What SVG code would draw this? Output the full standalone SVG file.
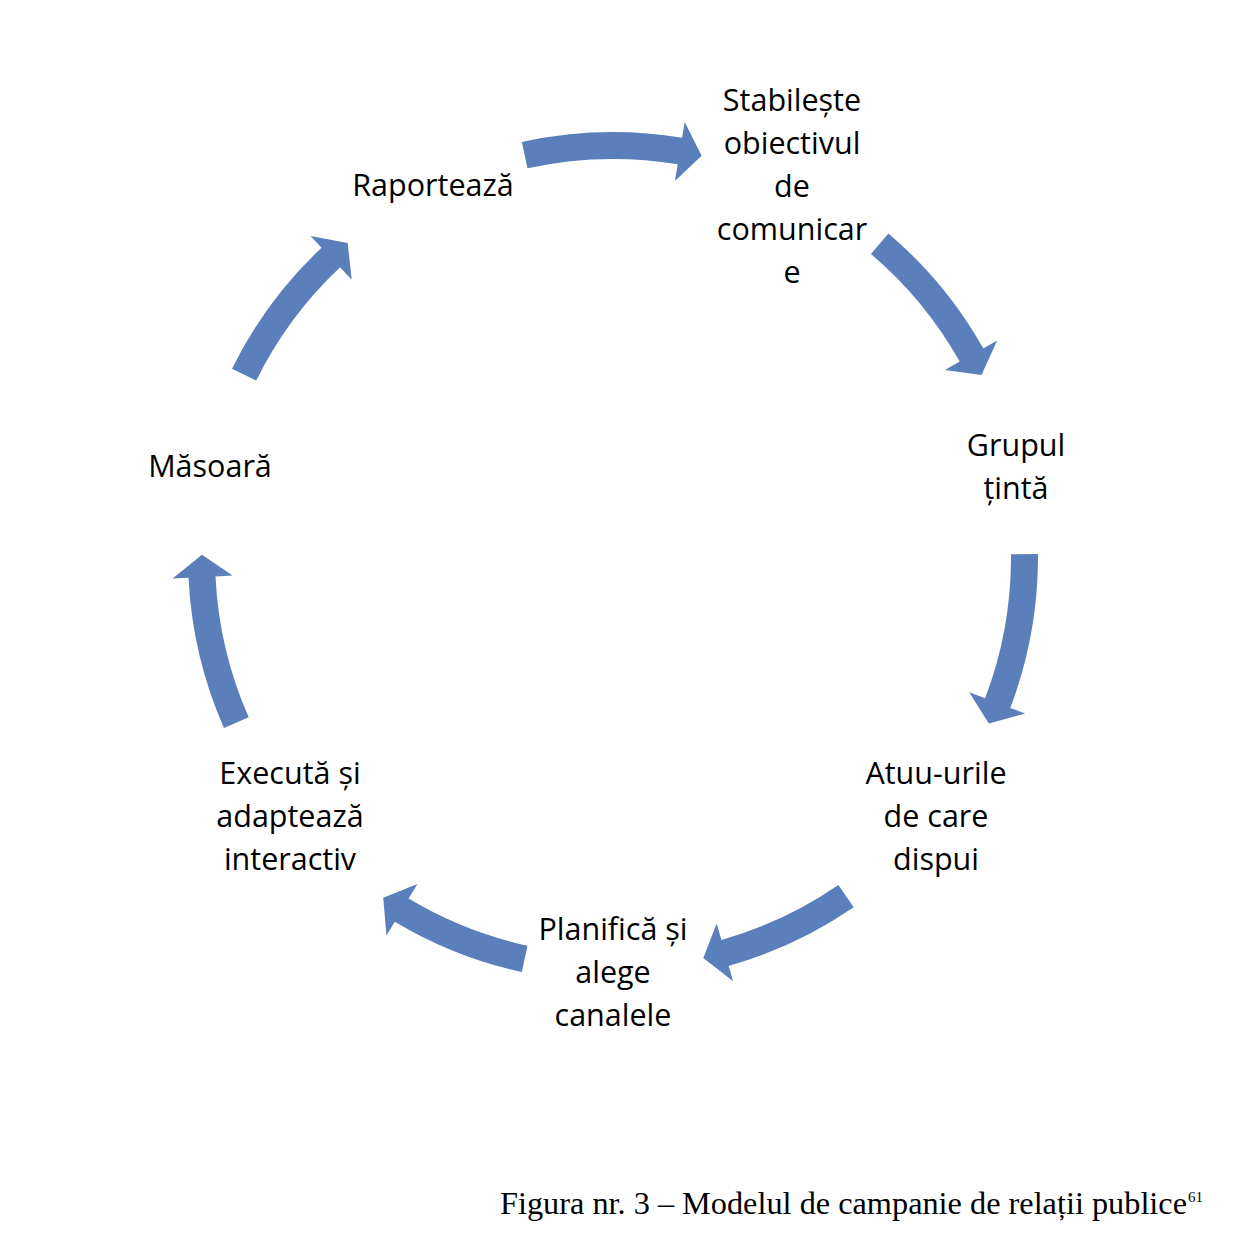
<svg xmlns="http://www.w3.org/2000/svg" width="1248" height="1258" viewBox="0 0 1248 1258">
<style>
.bg{fill:#ffffff}
.arr{fill:#5b7fbb;stroke:none}
.lbl{font-family:"Open Sans","Noto Sans","DejaVu Sans",sans-serif;font-size:30.5px;fill:#000000;text-anchor:middle}
.cap{font-family:"Liberation Serif","Times New Roman",serif;font-size:32px;fill:#000000}
.sup{font-family:"Liberation Serif","Times New Roman",serif;font-size:15px;fill:#000000}
</style>
<rect class="bg" x="0" y="0" width="1248" height="1258"/>
<g id="connectors">
<path id="a1" class="arr" d="M521.8,141.9 A425,425 0 0 1 682.1,137.7 L684.7,121.9 L701.6,155.7 L674.9,181.1 L677.7,164.3 A398,398 0 0 0 527.5,168.3 Z"/>
<path id="a2" class="arr" d="M888.4,233.4 A425,425 0 0 1 983.3,348.4 L997.2,340.5 L981.5,374.9 L944.9,370.0 L959.7,361.6 A398,398 0 0 0 870.9,253.9 Z"/>
<path id="a3" class="arr" d="M1038.0,554.0 A425,425 0 0 1 1010.3,707.9 L1025.2,713.6 L988.8,723.5 L969.2,692.3 L985.1,698.3 A398,398 0 0 0 1011.0,554.2 Z"/>
<path id="a4" class="arr" d="M853.7,907.2 A425,425 0 0 1 728.7,965.9 L733.1,981.3 L703.3,957.9 L716.7,923.6 L721.4,940.0 A398,398 0 0 0 838.4,885.0 Z"/>
<path id="a5" class="arr" d="M521.8,972.1 A425,425 0 0 1 394.8,921.7 L386.5,935.4 L383.2,897.7 L417.4,883.9 L408.6,898.5 A398,398 0 0 0 527.5,945.7 Z"/>
<path id="a6" class="arr" d="M224.0,728.1 A425,425 0 0 1 188.5,577.7 L172.5,578.5 L202.0,554.8 L232.5,575.6 L215.5,576.4 A398,398 0 0 0 248.7,717.3 Z"/>
<path id="a7" class="arr" d="M232.0,368.7 A425,425 0 0 1 321.5,247.7 L310.6,236.0 L347.7,243.1 L351.7,279.7 L340.1,267.3 A398,398 0 0 0 256.2,380.6 Z"/>
</g>
<g id="n1">
<text class="lbl" x="792" y="111">Stabilește</text>
<text class="lbl" x="792" y="154">obiectivul</text>
<text class="lbl" x="792" y="197">de</text>
<text class="lbl" x="792" y="240">comunicar</text>
<text class="lbl" x="792" y="283">e</text>
</g>
<g id="n2">
<text class="lbl" x="1016" y="456">Grupul</text>
<text class="lbl" x="1016" y="499">țintă</text>
</g>
<g id="n3">
<text class="lbl" x="936" y="784">Atuu-urile</text>
<text class="lbl" x="936" y="827">de care</text>
<text class="lbl" x="936" y="870">dispui</text>
</g>
<g id="n4">
<text class="lbl" x="613" y="940">Planifică și</text>
<text class="lbl" x="613" y="983">alege</text>
<text class="lbl" x="613" y="1026">canalele</text>
</g>
<g id="n5">
<text class="lbl" x="290" y="784">Execută și</text>
<text class="lbl" x="290" y="827">adaptează</text>
<text class="lbl" x="290" y="870">interactiv</text>
</g>
<g id="n6">
<text class="lbl" x="210" y="477">Măsoară</text>
</g>
<g id="n7">
<text class="lbl" x="433" y="196">Raportează</text>
</g>
<g id="caption">
<text class="cap" x="500" y="1214" textLength="687" lengthAdjust="spacingAndGlyphs">Figura nr. 3 – Modelul de campanie de relații publice</text>
<text class="sup" x="1188" y="1202">61</text>
</g>
</svg>
